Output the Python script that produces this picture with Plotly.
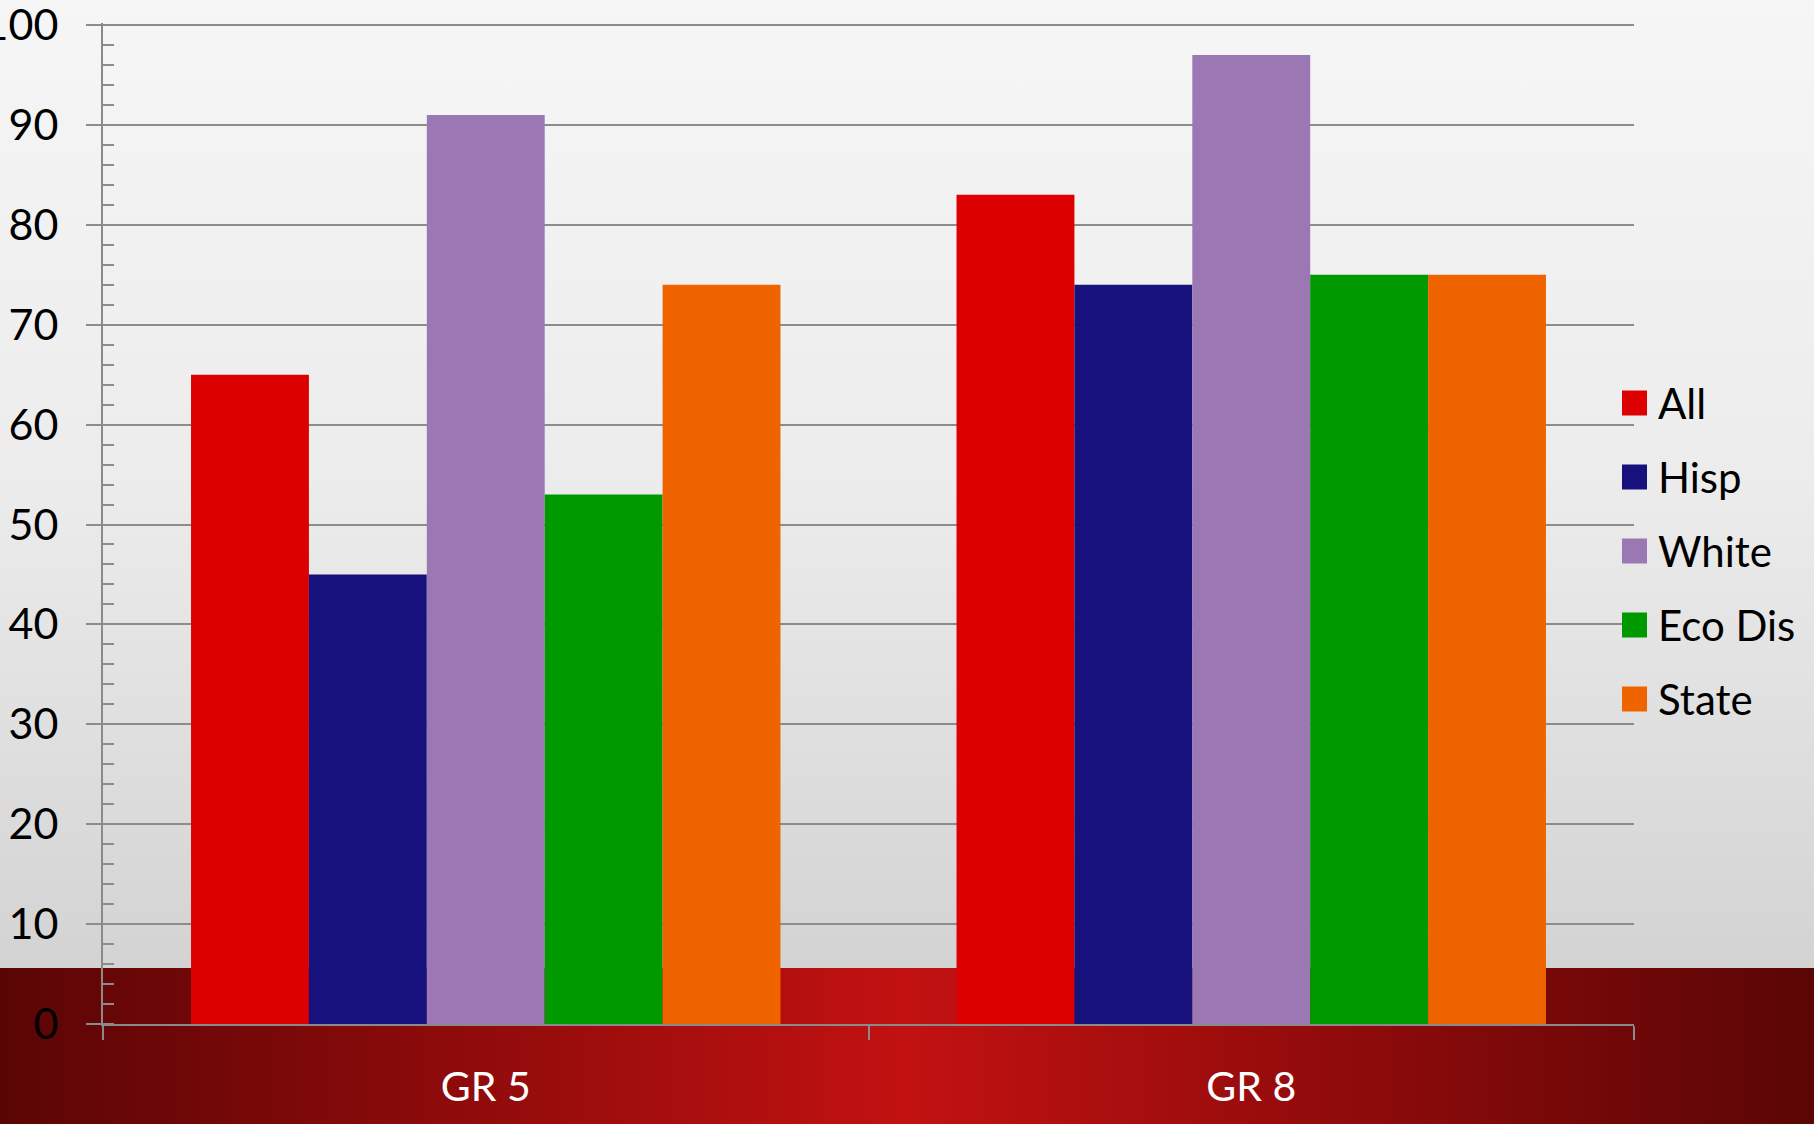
import base64
import plotly.graph_objects as go

categories = ["GR 5", "GR 8"]
series_names = ["All", "Hisp", "White", "Eco Dis", "State"]
all_vals = [65, 83]
hisp_vals = [45, 74]
white_vals = [91, 97]
ecodis_vals = [53, 75]
state_vals = [74, 75]
series_values = [all_vals, hisp_vals, white_vals, ecodis_vals, state_vals]
colors = ["#dd0000", "#17117e", "#9b77b3", "#009900", "#f06400"]
y_ticks = list(range(0, 101, 10))

W, H = 1814, 1124
L, R, T, B = 103, 180, 23, 100
PW, PH = W - L - R, H - T - B
FONT = "Lato, Carlito, Calibri, 'Open Sans', sans-serif"
YMAX = 100.2


def px_x(px):
    return (px - L) / PW


def px_y(py):
    return (H - B - py) / PH


band_top = 968
svg = f'''<svg xmlns="http://www.w3.org/2000/svg" width="{W}" height="{H}" viewBox="0 0 {W} {H}" preserveAspectRatio="none">
<defs>
<linearGradient id="g1" x1="0" y1="0" x2="0" y2="1">
<stop offset="0" stop-color="#f6f6f6"/><stop offset="0.5" stop-color="#ececec"/><stop offset="1" stop-color="#d3d3d3"/>
</linearGradient>
<linearGradient id="g2" x1="0" y1="0" x2="1" y2="0">
<stop offset="0" stop-color="#5a0505"/><stop offset="0.5" stop-color="#c21111"/><stop offset="1" stop-color="#5a0505"/>
</linearGradient>
</defs>
<rect x="0" y="0" width="{W}" height="{band_top}" fill="url(#g1)"/>
<rect x="0" y="{band_top}" width="{W}" height="{H - band_top}" fill="url(#g2)"/>
</svg>'''
src = "data:image/svg+xml;base64," + base64.b64encode(svg.encode()).decode()

fig = go.Figure()
for name, vals, col in zip(series_names, series_values, colors):
    fig.add_trace(go.Bar(x=categories, y=vals, name=name, marker=dict(color=col, line=dict(width=0)),
                         showlegend=False))

shapes = []
annotations = []
for i, (name, col) in enumerate(zip(series_names, colors)):
    cy = 403 + 74 * i
    shapes.append(dict(type="rect", xref="paper", yref="paper",
                       x0=px_x(1622), x1=px_x(1647), y0=px_y(cy + 12.5), y1=px_y(cy - 12.5),
                       fillcolor=col, line=dict(width=0), layer="above"))
    annotations.append(dict(xref="paper", yref="paper", x=px_x(1656), y=px_y(cy),
                            xanchor="left", yanchor="middle", text=name, showarrow=False,
                            font=dict(family=FONT, size=42, color="#000000")))

fig.update_layout(
    width=W, height=H,
    margin=dict(l=L, r=R, t=T, b=B, pad=0, autoexpand=False),
    paper_bgcolor="#e6e6e6",
    plot_bgcolor="rgba(0,0,0,0)",
    barmode="group", bargap=0.23, bargroupgap=0,
    showlegend=False,
    font=dict(family=FONT, size=42, color="#000000"),
    images=[dict(source=src, xref="paper", yref="paper", x=px_x(0), y=px_y(0),
                 sizex=W / PW, sizey=H / PH, xanchor="left", yanchor="top",
                 sizing="stretch", layer="below")],
    shapes=shapes,
    annotations=annotations,
    xaxis=dict(type="category", showgrid=False, showline=True, linecolor="#8a8a8a", linewidth=2,
               ticks="outside", tickson="boundaries", ticklen=14, tickwidth=2, tickcolor="#8a8a8a",
               tickfont=dict(family=FONT, size=41, color="#ffffff"), ticklabelstandoff=26,
               zeroline=False, fixedrange=True, automargin=False),
    yaxis=dict(range=[0, YMAX], tickvals=y_ticks, ticktext=[str(v) for v in y_ticks],
               showgrid=True, gridcolor="#8c8c8c", gridwidth=2,
               showline=True, linecolor="#8a8a8a", linewidth=2,
               ticks="outside", ticklen=15, tickwidth=2, tickcolor="#8c8c8c",
               minor=dict(dtick=2, ticks="inside", ticklen=11, tickwidth=2, tickcolor="#8c8c8c", showgrid=False),
               tickfont=dict(family=FONT, size=43, color="#000000"), ticklabelstandoff=19,
               ticklabeloverflow="allow",
               zeroline=False, fixedrange=True, automargin=False),
)

fig.write_html("out.html", config={"displayModeBar": False},
               post_script="document.body.style.margin='0';document.body.style.overflow='hidden';")
